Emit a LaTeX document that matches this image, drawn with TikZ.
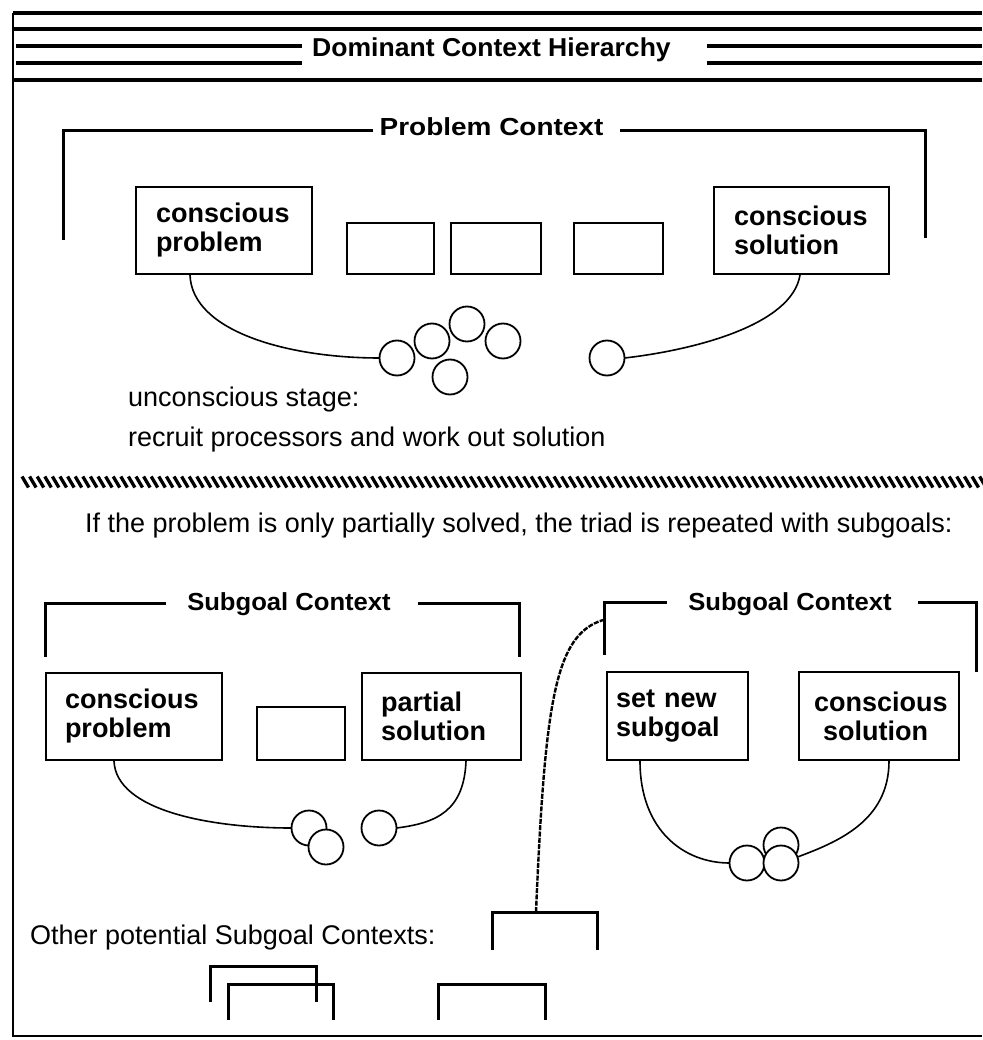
\documentclass[tikz,border=0pt]{standalone}
\usepackage{fontspec}
\setmainfont{Liberation Sans}
\begin{document}
\begin{tikzpicture}[x=1pt,y=-1pt,
  box/.style={draw,line width=2pt,inner ysep=0pt,align=left,anchor=north west,
    font=\bfseries\fontsize{27}{29}\selectfont},
  ebox/.style={draw,line width=2pt,anchor=north west,inner sep=0pt},
  brk/.style={line width=3pt},
  hl/.style={line width=3.5pt},
  ctx/.style={font=\bfseries\fontsize{23.5}{26}\selectfont,anchor=base,inner sep=0pt},
  body/.style={font=\fontsize{27}{30}\selectfont,anchor=base west,inner sep=0pt},
  proc/.style={draw,circle,line width=1.8pt,minimum size=35pt,inner sep=0pt,fill=white},
  wire/.style={line width=1.6pt},
  dwire/.style={line width=2.4pt,dash pattern=on 5pt off 1.3pt},
]
\useasboundingbox (0,0) rectangle (982,1040);

% frame and header
\draw[line width=2.5pt] (13,13) -- (13,1036) -- (982,1036);
\foreach \yy in {13,29,80} \draw[hl] (13,\yy) -- (982,\yy);
\foreach \yy in {46,63} {\draw[hl] (16,\yy) -- (302,\yy); \draw[hl] (707,\yy) -- (982,\yy);}
\node[ctx] (dch) at (491.5,57) {\scalebox{1.13}[1.1]{Dominant Context Hierarchy}};

% problem context
\node[ctx] (pc) at (491.5,136) {\scalebox{1.19}[1.05]{Problem Context}};
\draw[brk] (373,131) -- (63,131) -- (63,240);
\draw[brk] (620,131) -- (925,131) -- (925,238);

\node[box,inner xsep=20pt,text width=136pt,minimum width=176pt,minimum height=87pt] (tp) at (135,186) {conscious\\problem};
\node[ebox,minimum width=87pt,minimum height=51pt] (e1) at (346,222) {};
\node[ebox,minimum width=90pt,minimum height=51pt] (e2) at (450,222) {};
\node[ebox,minimum width=89pt,minimum height=51pt] (e3) at (573,222) {};
\node[box,inner xsep=20pt,text width=135pt,minimum width=175pt,minimum height=87pt] (ts) at (713,186) {conscious\\solution};

\draw[wire] ([xshift=55pt]tp.south west) .. controls +(2,57) and +(-90,0) .. (397-17.5,358);
\draw[wire] ([xshift=87pt]ts.south west) .. controls +(-8,50) and +(70,-8) .. (607+17.5,358);
\node[proc] (t1) at (397,358) {};
\node[proc] (t2) at (432,341) {};
\node[proc] (t3) at (467,324) {};
\node[proc] (t4) at (503,341) {};
\node[proc] (t5) at (450,377) {};
\node[proc] (t6) at (607,358) {};

\node[body] (us) at (128,406) {unconscious stage:};
\node[body] (rp) at (128,446) {recruit processors and work out solution};

% hatched divider
\foreach \i in {0,...,126} \draw[line width=3.3pt] ({22+7.6*\i},476.5) -- ++(6.5,11);

\node[body] (ifp) at (85,532) {If the problem is only partially solved, the triad is repeated with subgoals:};

% left subgoal context
\node[ctx] (sg1) at (289,610) {\scalebox{1.09}[1.05]{Subgoal Context}};
\draw[brk] (166,603) -- (45,603) -- (45,657);
\draw[brk] (418,603) -- (519,603) -- (519,657);
\node[box,inner xsep=19pt,text width=138pt,minimum width=176pt,minimum height=87pt] (bp) at (45,672) {conscious\\problem};
\node[ebox,minimum width=88pt,minimum height=53pt] (em) at (256,706) {};
\node[box,inner xsep=19pt,text width=121pt,minimum width=159pt,minimum height=87pt] (ps) at (361,672) {partial\\solution};
\draw[wire] ([xshift=69pt]bp.south west) .. controls +(2,50) and +(-80,0) .. (309-17.5,828);
\draw[wire] ([xshift=105pt]ps.south west) .. controls +(-2,50) and +(40,-5) .. (379+17.5,828);
\node[proc] (la) at (309,828) {};
\node[proc] (lb) at (326,847) {};
\node[proc] (lc) at (379,828) {};

% right subgoal context
\node[ctx] (sg2) at (790,610) {\scalebox{1.09}[1.05]{Subgoal Context}};
\draw[brk] (667,602) -- (604,602) -- (604,655);
\draw[brk] (918,602) -- (976,602) -- (976,672);
\node[box,inner xsep=9pt,text width=123pt,minimum width=141pt,minimum height=88pt] (sn) at (606,671) {set new\\subgoal};
\node[box,inner xsep=15pt,text width=130pt,minimum width=160pt,minimum height=88pt] (cs) at (798,671) {conscious\\\hspace*{9pt}solution};
\draw[wire] ([xshift=34pt]sn.south west) .. controls +(0,70) and +(-45,0) .. (747-17.5,863);
\draw[wire] ([xshift=91pt]cs.south west) .. controls +(0,60) and +(40,-15) .. (781+16.5,857);
\node[proc] (rc) at (781,845) {};
\node[proc] (ra) at (747,863) {};
\node[proc] (rb) at (781,863) {};

% other potential subgoal contexts
\node[body] (op) at (30,944) {Other potential Subgoal Contexts:};
\draw[brk] (492,950) -- (492,912) -- (597,912) -- (597,950);
\draw[brk] (210,1002) -- (210,966) -- (316,966) -- (316,1002);
\draw[brk] (228,1020) -- (228,984) -- (333,984) -- (333,1020);
\draw[brk] (438,1020) -- (438,984) -- (545,984) -- (545,1020);
\coordinate (cc) at (536,912);
\coordinate (sgl) at (603,620);
\draw[dwire] (cc) .. controls (545,700) and (555,635) .. (sgl);
\end{tikzpicture}
\end{document}
